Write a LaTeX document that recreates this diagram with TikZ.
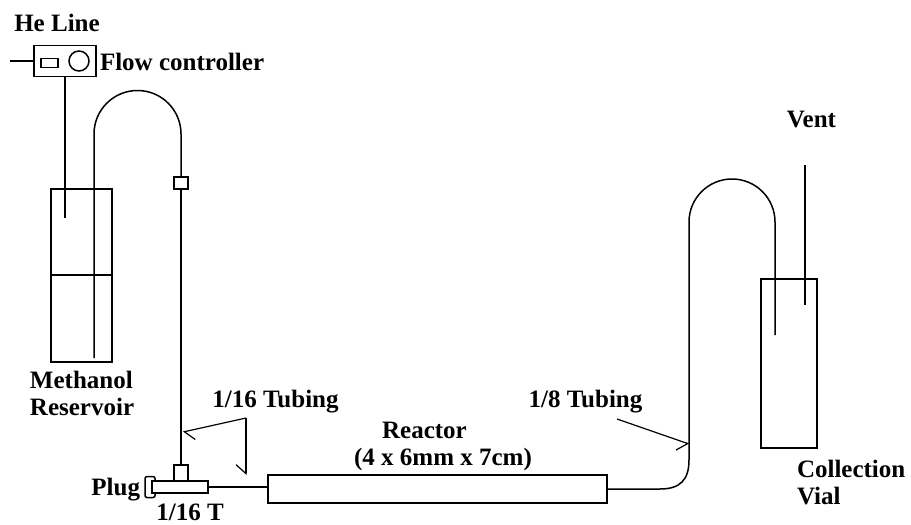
\documentclass[tikz,border=0pt]{standalone}
\usepackage{fontspec}
\setmainfont{Liberation Serif}
\usetikzlibrary{arrows.meta, positioning}

\begin{document}
\begin{tikzpicture}[
  x=1pt, y=-1pt,
  every node/.style={font=\fontsize{25}{26.5}\selectfont\bfseries, inner sep=0pt, outer sep=0pt},
  part/.style={rectangle, draw, line width=1.5pt, font=\tiny},
  tube/.style={line width=1.5pt},
  pointer/.style={line width=1.2pt, -{Straight Barb[harpoon, length=9pt, width=20pt, line width=1.2pt]}},
  pointerb/.style={line width=1.2pt, -{Straight Barb[harpoon, swap, length=9pt, width=20pt, line width=1.2pt]}},
]
  \useasboundingbox (0,0) rectangle (911,525);

  % gas supply
  \node[anchor=base] (he) at (57,31) {He Line};
  \node[part, minimum width=62pt, minimum height=31pt] (flow) at (65,61) {};
  \node[part, minimum width=17pt, minimum height=9pt] (display) at (49.5,63) {};
  \node[part, circle, minimum size=20pt] (knob) at (79,61) {};
  \node[anchor=base west] (flowlabel) at (100,70) {Flow controller};
  \coordinate (heline) at (10,61);

  % reservoir
  \node[part, minimum width=61pt, minimum height=173pt] (res) at (81.5,275.5) {};
  \coordinate (resleft) at (51,275);
  \coordinate (resright) at (112,275);
  \coordinate (heend) at (65,218);
  \coordinate (tubeend) at (94,358);
  \coordinate (tubetop) at (94,134);
  \node[anchor=base west, align=left] (reslabel) at (30,415) {Methanol\\Reservoir};

  % tee
  \node[part, minimum width=14pt, minimum height=12pt] (union) at (181,183) {};
  \node[part, minimum width=14pt, minimum height=16pt] (stub) at (181,473) {};
  \node[part, rounded corners=2pt, minimum width=10pt, minimum height=21pt, anchor=east] (plug) at (155,487) {};
  \node[part, fill=white, minimum width=56pt, minimum height=12pt] (tee) at (180,487) {};
  \node[anchor=base east] (pluglabel) at (140,495) {Plug};
  \node[anchor=base] (teelabel) at (190,520.5) {1/16 T};

  % reactor
  \node[part, minimum width=339pt, minimum height=28pt] (reactor) at (437.5,489) {};
  \node[anchor=base] (reactlabel) at (424.5,438) {Reactor};
  \node[anchor=base] (sizelabel) at (443,465) {(4 x 6mm x 7cm)};

  % vial
  \node[part, minimum width=56pt, minimum height=169pt] (vial) at (789,363.5) {};
  \node[anchor=base west, align=left] (viallabel) at (797,504) {Collection\\Vial};
  \node[anchor=base] (ventlabel) at (811.5,127) {Vent};
  \coordinate (ventend) at (805,305);
  \coordinate (venttop) at (805,165);
  \coordinate (outend) at (775,335);
  \coordinate (outleft) at (689,222);
  \coordinate (outbend) at (689,460);
  \coordinate (outstart) at (660,489);

  % tubing labels
  \node[anchor=base] (t16label) at (275.5,407) {1/16 Tubing};
  \node[anchor=base] (t8label) at (585.5,407) {1/8 Tubing};
  \coordinate (t16corner) at (246,418);
  \coordinate (t16a) at (183,432);
  \coordinate (t16b) at (246,475);
  \coordinate (t8start) at (617,419);
  \coordinate (t8end) at (689,444);

  \draw[tube] (heline) -- (flow.west);
  \draw[tube] (flow.south) -- (heend);
  \draw[tube] (resleft) -- (resright);
  \draw[tube] (tubeend) -- (tubetop) arc[start angle=180, end angle=360, radius=43.5] -- (union.north);
  \draw[tube] (union.south) -- (stub.north);
  \draw[tube] (tee.east) -- (tee.east -| reactor.west);
  \draw[tube] (reactor.east) -- (outstart) .. controls (680,489) and (689,480) .. (outbend) -- (outleft)
    arc[start angle=180, end angle=360, radius=43] -- (outend);
  \draw[tube] (venttop) -- (ventend);

  \draw[pointer] (t16corner) -- (t16a);
  \draw[pointerb] (t16corner) -- (t16b);
  \draw[pointerb] (t8start) -- (t8end);
\end{tikzpicture}
\end{document}
